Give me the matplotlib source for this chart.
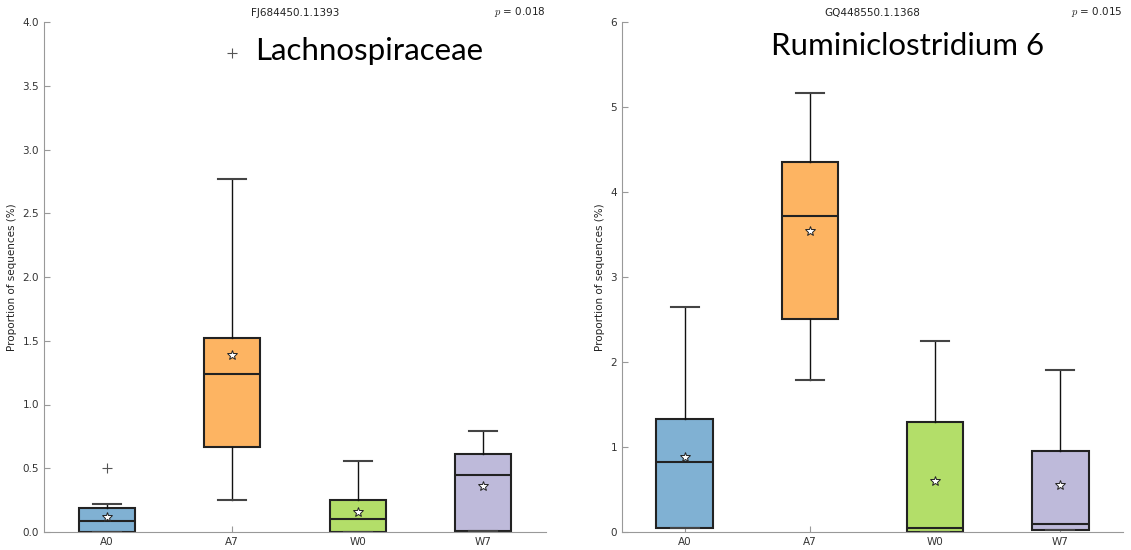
import matplotlib.pyplot as plt

plt.rcParams['mathtext.fontset'] = 'cm'

groups = ['A0', 'A7', 'W0', 'W7']
colors = ['#80b1d3', '#fdb462', '#b3de69', '#bebada']

# FJ684450.1.1393 (Lachnospiraceae)
lach_q1 = [0.0, 0.67, 0.0, 0.01]
lach_med = [0.09, 1.24, 0.10, 0.45]
lach_q3 = [0.19, 1.52, 0.25, 0.61]
lach_lo = [0.0, 0.25, 0.0, 0.01]
lach_hi = [0.22, 2.77, 0.56, 0.79]
lach_mean = [0.12, 1.39, 0.16, 0.36]
lach_fliers = [[0.50], [3.76], [], []]

# GQ448550.1.1368 (Ruminiclostridium 6)
rumi_q1 = [0.05, 2.51, 0.0, 0.02]
rumi_med = [0.82, 3.72, 0.05, 0.10]
rumi_q3 = [1.33, 4.35, 1.30, 0.95]
rumi_lo = [0.05, 1.79, 0.0, 0.02]
rumi_hi = [2.65, 5.16, 2.25, 1.91]
rumi_mean = [0.88, 3.54, 0.60, 0.55]
rumi_fliers = [[], [], [], []]


def make_stats(q1, med, q3, lo, hi, mean, fliers):
    stats = []
    for i in range(len(groups)):
        stats.append({'label': groups[i], 'q1': q1[i], 'med': med[i], 'q3': q3[i],
                      'whislo': lo[i], 'whishi': hi[i], 'mean': mean[i],
                      'fliers': fliers[i]})
    return stats


def draw_panel(ax, stats, ymax, yticks, seq_id, pval, taxon, taxon_xy):
    bp = ax.bxp(stats, positions=range(len(groups)), widths=0.45, capwidths=0.225,
                patch_artist=True, showmeans=True,
                boxprops=dict(edgecolor='#222222', linewidth=1.5),
                medianprops=dict(color='#222222', linewidth=1.5),
                whiskerprops=dict(color='#111111', linewidth=1.0),
                capprops=dict(color='#444444', linewidth=1.5),
                meanprops=dict(marker='*', markerfacecolor='white',
                               markeredgecolor='#222222', markersize=7,
                               markeredgewidth=0.7),
                flierprops=dict(marker='+', markeredgecolor='#555555',
                                markersize=7, markeredgewidth=0.8))
    for patch, c in zip(bp['boxes'], colors):
        patch.set_facecolor(c)

    ax.set_xlim(-0.5, 3.5)
    ax.set_ylim(0, ymax)
    ax.set_yticks(yticks)
    for side in ['top', 'right']:
        ax.spines[side].set_visible(False)
    for side in ['left', 'bottom']:
        ax.spines[side].set_color('#999999')
    ax.tick_params(direction='in', colors='#999999', labelcolor='#333333',
                   labelsize=7.5, length=4)
    ax.set_ylabel('Proportion of sequences (%)', fontsize=7.5, color='#222222')
    ax.set_title(seq_id, fontsize=7.5, color='#222222', pad=4)
    ax.text(1.0, 1.006, '$p$ = ' + pval, transform=ax.transAxes, ha='right',
            va='bottom', fontsize=7.5, color='#222222')
    ax.figure.text(taxon_xy[0], taxon_xy[1], taxon, fontsize=22.5,
                   family='Lato', ha='left', va='center', color='black')


fig = plt.figure(figsize=(11.31, 5.5), dpi=100)
ax1 = fig.add_axes([44 / 1131, 18 / 550, 502 / 1131, 510 / 550])
ax2 = fig.add_axes([622 / 1131, 18 / 550, 501 / 1131, 510 / 550])

draw_panel(ax1, make_stats(lach_q1, lach_med, lach_q3, lach_lo, lach_hi, lach_mean, lach_fliers),
           4.0, [0, 0.5, 1.0, 1.5, 2.0, 2.5, 3.0, 3.5, 4.0],
           'FJ684450.1.1393', '0.018', 'Lachnospiraceae', (255 / 1131, 1 - 51 / 550))
draw_panel(ax2, make_stats(rumi_q1, rumi_med, rumi_q3, rumi_lo, rumi_hi, rumi_mean, rumi_fliers),
           6, [0, 1, 2, 3, 4, 5, 6],
           'GQ448550.1.1368', '0.015', 'Ruminiclostridium 6', (771 / 1131, 1 - 46 / 550))
ax1.set_yticklabels(['0.0', '0.5', '1.0', '1.5', '2.0', '2.5', '3.0', '3.5', '4.0'])

fig.savefig('out.png', dpi=100)
